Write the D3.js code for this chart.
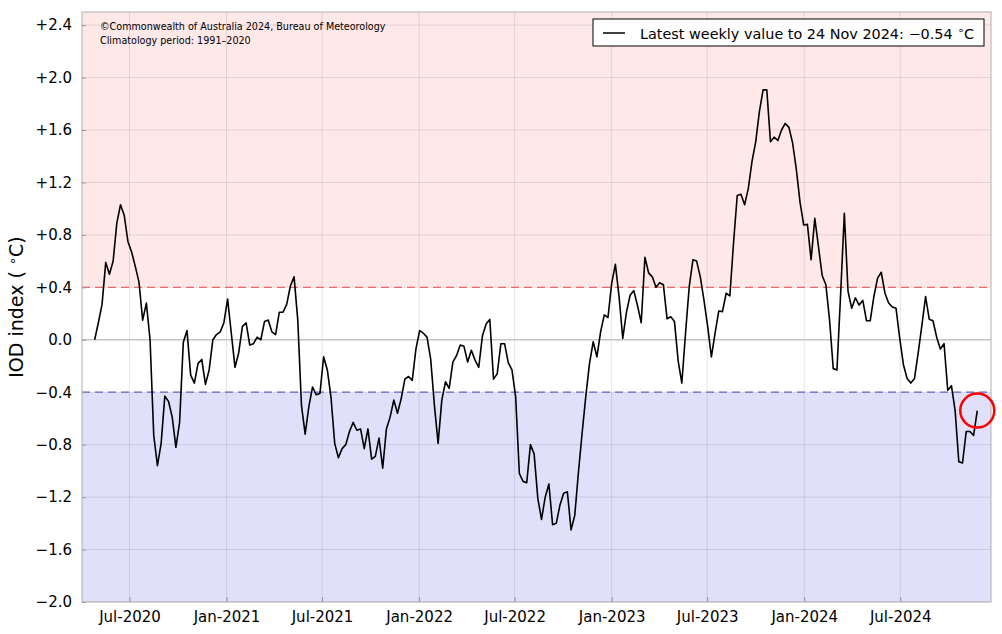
<!DOCTYPE html>
<html><head><meta charset="utf-8">
<script src="https://cdn.jsdelivr.net/npm/d3@7"></script>
<style>body{margin:0;background:#fff;}svg{display:block;font-family:"DejaVu Sans",sans-serif;}</style>
</head><body><svg id="c" width="1002" height="634"></svg>
<script>
const startDate = "2020-04-26";   // first weekly value (Sunday)
const latestLabel = "24 Nov 2024";
const iodValues = [
 0.00,0.13,0.27,0.59,0.50,0.60,0.89,1.03,0.95,0.75,0.67,0.56,0.44,0.15,0.28,0.00,
 -0.73,-0.96,-0.79,-0.43,-0.47,-0.59,-0.82,-0.63,-0.02,0.07,-0.27,-0.33,-0.18,-0.15,-0.34,-0.23,
 0.00,0.04,0.06,0.13,0.31,0.05,-0.21,-0.10,0.10,0.13,-0.04,-0.03,0.02,0.00,0.14,0.15,
 0.06,0.04,0.21,0.21,0.27,0.41,0.48,0.15,-0.50,-0.72,-0.51,-0.36,-0.42,-0.41,-0.13,-0.23,
 -0.44,-0.79,-0.90,-0.83,-0.80,-0.70,-0.63,-0.69,-0.68,-0.83,-0.68,-0.91,-0.89,-0.75,-0.98,-0.68,
 -0.59,-0.46,-0.56,-0.45,-0.30,-0.28,-0.31,-0.07,0.07,0.05,0.02,-0.15,-0.50,-0.79,-0.46,-0.32,
 -0.37,-0.17,-0.12,-0.04,-0.05,-0.17,-0.08,-0.155,-0.21,0.03,0.12,0.155,-0.30,-0.26,-0.03,-0.03,
 -0.175,-0.23,-0.435,-1.02,-1.08,-1.09,-0.80,-0.87,-1.21,-1.37,-1.20,-1.10,-1.41,-1.40,-1.26,-1.17,
 -1.16,-1.45,-1.34,-1.01,-0.71,-0.43,-0.18,-0.015,-0.13,0.06,0.19,0.17,0.43,0.575,0.33,0.01,
 0.21,0.34,0.375,0.26,0.13,0.63,0.51,0.48,0.40,0.435,0.42,0.16,0.176,0.14,-0.16,-0.33,
 0.05,0.405,0.61,0.60,0.48,0.30,0.10,-0.13,0.05,0.22,0.215,0.355,0.335,0.74,1.10,1.11,
 1.03,1.155,1.36,1.51,1.74,1.906,1.906,1.51,1.545,1.52,1.60,1.65,1.62,1.50,1.30,1.05,
 0.875,0.88,0.61,0.926,0.71,0.49,0.42,0.15,-0.22,-0.23,0.35,0.965,0.37,0.24,0.32,0.265,
 0.30,0.145,0.145,0.33,0.47,0.515,0.355,0.28,0.25,0.24,0.01,-0.19,-0.295,-0.33,-0.295,-0.10,
 0.11,0.33,0.156,0.145,0.02,-0.07,-0.03,-0.385,-0.35,-0.54,-0.93,-0.94,-0.70,-0.70,-0.73,-0.54
];
const yTicks = [-2.0,-1.6,-1.2,-0.8,-0.4,0.0,0.4,0.8,1.2,1.6,2.0,2.4];
const xTickDates = ["2020-07-01","2021-01-01","2021-07-01","2022-01-01","2022-07-01","2023-01-01","2023-07-01","2024-01-01","2024-07-01"];
const xDomain = ["2020-04-02","2024-12-20"];
const yDomain = [-2.0, 2.5];
const thresholds = [0.4, -0.4];
const creditLines = ["\u00A9Commonwealth of Australia 2024, Bureau of Meteorology","Climatology period: 1991\u20132020"];

const svg = d3.select("#c");
const L = 82, R = 991, T = 12, B = 602;
const parse = d3.utcParse("%Y-%m-%d");
const t0 = parse(startDate);
const data = iodValues.map((v,i)=>({date:d3.utcDay.offset(t0, 7*i), v}));

const x = d3.scaleUtc().domain(xDomain.map(parse)).range([L,R]);
const y = d3.scaleLinear().domain(yDomain).range([B,T]);

// background bands
svg.append("rect").attr("x",L).attr("y",T).attr("width",R-L).attr("height",y(0.4)-T).attr("fill","#ffe8e8");
svg.append("rect").attr("x",L).attr("y",y(0.4)).attr("width",R-L).attr("height",y(-0.4)-y(0.4)).attr("fill","#ffffff");
svg.append("rect").attr("x",L).attr("y",y(-0.4)).attr("width",R-L).attr("height",B-y(-0.4)).attr("fill","#e0e0fa");

// grid
const g = svg.append("g");
g.selectAll("line.h").data(yTicks.filter(d=>d!==0)).join("line")
 .attr("x1",L).attr("x2",R).attr("y1",d=>y(d)).attr("y2",d=>y(d))
 .attr("stroke","rgba(0,0,0,0.1)").attr("stroke-width",1);
g.selectAll("line.v").data(xTickDates.map(parse)).join("line")
 .attr("x1",d=>x(d)).attr("x2",d=>x(d)).attr("y1",T).attr("y2",B)
 .attr("stroke","rgba(0,0,0,0.1)").attr("stroke-width",1);
svg.append("line").attr("x1",L).attr("x2",R).attr("y1",y(0)).attr("y2",y(0))
 .attr("stroke","#c4c4c4").attr("stroke-width",1.5);

// thresholds
svg.append("line").attr("x1",L).attr("x2",R).attr("y1",y(thresholds[0])).attr("y2",y(thresholds[0]))
 .attr("stroke","#e86a6a").attr("stroke-width",1.2).attr("stroke-dasharray","8,5");
svg.append("line").attr("x1",L).attr("x2",R).attr("y1",y(thresholds[1])).attr("y2",y(thresholds[1]))
 .attr("stroke","#6464c4").attr("stroke-width",1.2).attr("stroke-dasharray","8,5");

// data line
svg.append("path").datum(data)
 .attr("d", d3.line().x(d=>x(d.date)).y(d=>y(d.v)))
 .attr("fill","none").attr("stroke","#000").attr("stroke-width",1.6).attr("stroke-linejoin","round");

// frame
svg.append("rect").attr("x",L).attr("y",T).attr("width",R-L).attr("height",B-T)
 .attr("fill","none").attr("stroke","#b0b0b0").attr("stroke-width",1);

// axes
const fmtY = d => d===0 ? "0.0" : (d>0?"+":"\u2212")+Math.abs(d).toFixed(1);
const yAxis = svg.append("g").attr("transform",`translate(${L},0)`)
 .call(d3.axisLeft(y).tickValues(yTicks).tickFormat(fmtY).tickSizeInner(-4).tickSizeOuter(0).tickPadding(10));
const xAxis = svg.append("g").attr("transform",`translate(0,${B})`)
 .call(d3.axisBottom(x).tickValues(xTickDates.map(parse)).tickFormat(d3.utcFormat("%b-%Y")).tickSizeInner(-5).tickSizeOuter(0).tickPadding(9));
[yAxis,xAxis].forEach(a=>{
  a.select(".domain").remove();
  a.selectAll(".tick line").attr("stroke","#999");
  a.selectAll("text").attr("fill","#000").style("font-size","15px").style("font-family","DejaVu Sans");
});

// y label
const yl = svg.append("text").attr("transform","translate(23,307) rotate(-90)")
 .attr("text-anchor","middle").style("font-size","19px").attr("fill","#000");
yl.append("tspan").text("IOD index ( ");
yl.append("tspan").text("\u2218").style("font-size","13px").attr("dy",-6);
yl.append("tspan").text("C)").attr("dy",6);

// credit
svg.append("g").selectAll("text").data(creditLines).join("text")
 .attr("x",100).attr("y",(d,i)=>30+i*14).text(d=>d)
 .style("font-size","9.6px").attr("fill","#000");

// legend
const lg = svg.append("g");
lg.append("rect").attr("x",593).attr("y",19).attr("width",391).attr("height",27)
 .attr("fill","#fff").attr("stroke","#000").attr("stroke-width",1);
lg.append("line").attr("x1",603).attr("x2",625).attr("y1",33).attr("y2",33).attr("stroke","#000").attr("stroke-width",1.5);
const last = data[data.length-1];
const lt = lg.append("text").attr("x",640).attr("y",38.5).style("font-size","14.4px").attr("fill","#000");
lt.append("tspan").text(`Latest weekly value to ${latestLabel}: \u2212${Math.abs(last.v).toFixed(2)} `);
lt.append("tspan").text("\u2218").style("font-size","11px").attr("dy",-5);
lt.append("tspan").text("C").attr("dy",5);

// highlight circle on latest value
svg.append("circle").attr("cx",x(last.date)).attr("cy",y(last.v)).attr("r",17)
 .attr("fill","none").attr("stroke","#ff0000").attr("stroke-width",2.5);
</script></body></html>
